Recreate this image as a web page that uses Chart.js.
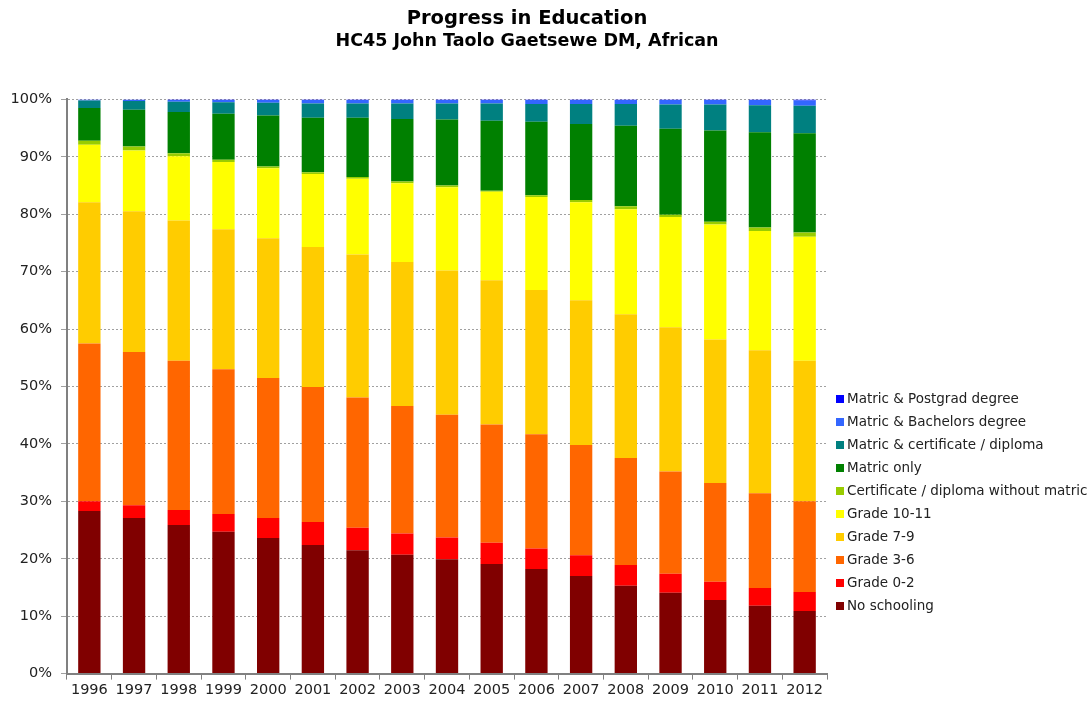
<!DOCTYPE html>
<html>
<head>
<meta charset="utf-8">
<title>Progress in Education</title>
<script src="https://cdn.jsdelivr.net/npm/chart.js@4.4.1/dist/chart.umd.min.js"></script>
<style>
    html, body { margin: 0; padding: 0; background: #fff; }
    #wrap { position: relative; width: 1092px; height: 701px; }
    #legend { position: absolute; left: 836px; top: 389px; font: 13.5px "DejaVu Sans", Verdana, sans-serif; color: #222; }
    #legend div { height: 23px; line-height: 18px; white-space: nowrap; }
    #legend span { display: inline-block; width: 8px; height: 8px; margin-right: 3px; vertical-align: 0px; }
</style>
</head>
<body>
<div id="wrap">
    <canvas id="eduChart" width="1092" height="701"></canvas>
    <div id="legend"></div>
</div>
<script>
// Years on the x axis
const years = ['1996', '1997', '1998', '1999', '2000', '2001', '2002', '2003', '2004',
    '2005', '2006', '2007', '2008', '2009', '2010', '2011', '2012'];

// Share of population (%) per education level
const noSchooling = [28.3, 27.1, 25.9, 24.7, 23.6, 22.4, 21.5, 20.7, 19.9, 19.1, 18.2, 17.0, 15.3, 14.1, 12.8, 11.8, 10.9];
const grade0to2 = [1.7, 2.2, 2.6, 3.1, 3.5, 4.0, 3.9, 3.7, 3.8, 3.7, 3.6, 3.6, 3.6, 3.3, 3.2, 3.1, 3.3];
const grade3to6 = [27.5, 26.7, 26.0, 25.2, 24.4, 23.5, 22.7, 22.2, 21.4, 20.6, 19.9, 19.2, 18.6, 17.8, 17.2, 16.5, 15.8];
const grade7to9 = [24.6, 24.5, 24.4, 24.4, 24.3, 24.4, 24.9, 25.1, 25.1, 25.1, 25.1, 25.2, 25.0, 25.1, 25.0, 24.9, 24.5];
const grade10to11 = [10.0, 10.6, 11.2, 11.7, 12.2, 12.7, 13.2, 13.7, 14.5, 15.4, 16.2, 17.1, 18.3, 19.2, 20.0, 20.8, 21.6];
const certNoMatric = [0.7, 0.7, 0.5, 0.4, 0.3, 0.3, 0.3, 0.3, 0.3, 0.2, 0.3, 0.4, 0.5, 0.4, 0.5, 0.6, 0.7];
const matricOnly = [5.7, 6.4, 7.2, 8.0, 8.9, 9.5, 10.3, 10.9, 11.5, 12.2, 12.8, 13.2, 14.0, 15.0, 15.9, 16.6, 17.3];
const matricCert = [1.3, 1.5, 1.8, 2.0, 2.2, 2.5, 2.5, 2.7, 2.8, 3.0, 3.1, 3.5, 3.8, 4.2, 4.5, 4.7, 4.8];
const matricBachelors = [0.15, 0.25, 0.3, 0.4, 0.5, 0.6, 0.6, 0.6, 0.6, 0.6, 0.7, 0.7, 0.7, 0.8, 0.8, 0.9, 0.9];
const matricPostgrad = [0.05, 0.05, 0.1, 0.1, 0.1, 0.1, 0.1, 0.1, 0.1, 0.1, 0.1, 0.1, 0.1, 0.1, 0.1, 0.1, 0.2];

const seriesNames = ['No schooling', 'Grade 0-2', 'Grade 3-6', 'Grade 7-9', 'Grade 10-11',
    'Certificate / diploma without matric', 'Matric only', 'Matric & certificate / diploma',
    'Matric & Bachelors degree', 'Matric & Postgrad degree'];
const seriesValues = [noSchooling, grade0to2, grade3to6, grade7to9, grade10to11,
    certNoMatric, matricOnly, matricCert, matricBachelors, matricPostgrad];
const seriesColors = ['#800000', '#FF0000', '#FF6600', '#FFCC00', '#FFFF00',
    '#99CC00', '#008000', '#008080', '#3366FF', '#0000FF'];

const fontFamily = '"DejaVu Sans", Verdana, sans-serif';

// 100% stacked: scale each year to its total
const totals = years.map((y, i) => seriesValues.reduce((s, arr) => s + arr[i], 0));

const datasets = seriesNames.map((name, k) => ({
    label: name,
    data: seriesValues[k].map((v, i) => v / totals[i] * 100),
    backgroundColor: seriesColors[k],
    borderWidth: 0,
    barPercentage: 0.5,
    categoryPercentage: 1.0
}));

const ctx = document.getElementById('eduChart').getContext('2d');
const eduChart = new Chart(ctx, {
    type: 'bar',
    data: { labels: years, datasets: datasets },
    options: {
        responsive: false,
        animation: false,
        layout: { padding: { left: 0, right: 38, top: 0, bottom: 0 } },
        plugins: {
            legend: { display: false },
            tooltip: { enabled: false },
            title: {
                display: true,
                text: 'Progress in Education',
                color: '#000',
                font: { family: fontFamily, size: 19.5, weight: 'bold' },
                padding: { top: 7, bottom: 0 }
            },
            subtitle: {
                display: true,
                text: 'HC45 John Taolo Gaetsewe DM, African',
                color: '#000',
                font: { family: fontFamily, size: 17.5, weight: 'bold' },
                padding: { top: 1, bottom: 47 }
            }
        },
        scales: {
            x: {
                stacked: true,
                grid: { display: true, drawOnChartArea: false, offset: true, tickLength: 6, color: '#808080' },
                border: { display: true, color: '#808080', width: 2 },
                ticks: { color: '#222', font: { family: fontFamily, size: 14.5 }, padding: 2, maxRotation: 0 }
            },
            y: {
                stacked: true,
                min: 0,
                max: 100,
                grid: { color: '#a0a0a0', tickLength: 6, tickBorderDash: [] },
                border: { display: true, color: '#808080', width: 2, dash: [2, 2] },
                ticks: {
                    stepSize: 10,
                    color: '#222',
                    font: { family: fontFamily, size: 14.5 },
                    padding: 9,
                    callback: value => value + '%'
                },
                afterFit: scale => { scale.width = 67; }
            },
            // empty axis on the right that leaves room for the legend
            yRight: {
                position: 'right',
                display: true,
                grid: { display: false, drawTicks: false },
                border: { display: false },
                ticks: { display: false },
                afterFit: scale => { scale.width = 227; }
            }
        }
    }
});

// Legend drawn as html, top entry is the last series
const legendBox = document.getElementById('legend');
eduChart.data.datasets.slice().reverse().forEach(ds => {
    const row = document.createElement('div');
    const swatch = document.createElement('span');
    swatch.style.background = ds.backgroundColor;
    row.appendChild(swatch);
    row.appendChild(document.createTextNode(ds.label));
    legendBox.appendChild(row);
});
</script>
</body>
</html>
